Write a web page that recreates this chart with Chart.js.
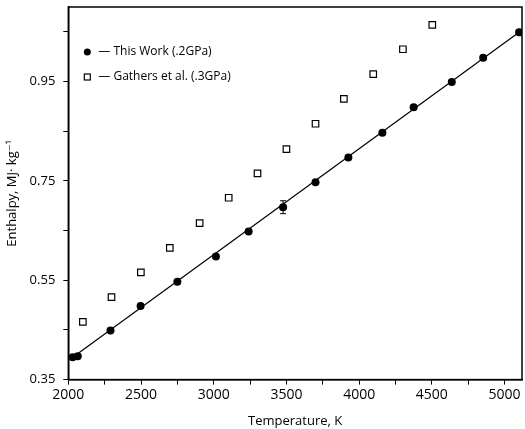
<!DOCTYPE html>
<html>
<head>
<meta charset="utf-8">
<script src="https://cdn.jsdelivr.net/npm/chart.js@4.4.1/dist/chart.umd.min.js"></script>
<style>
  html, body { margin: 0; padding: 0; background: #fff; }
</style>
</head>
<body>
<canvas id="chart" width="525" height="429"></canvas>
<script>
// data
const thisWorkT = [2030, 2065, 2290, 2497, 2750, 3015, 3240, 3477, 3700, 3926, 4160, 4375, 4637, 4853, 5100];
const thisWorkH = [0.395, 0.397, 0.449, 0.498, 0.547, 0.598, 0.648, 0.697, 0.747, 0.797, 0.847, 0.898, 0.949, 0.998, 1.049];
const thisWorkErr = [0, 0, 0, 0, 0, 0, 0, 0.013, 0, 0, 0, 0, 0, 0, 0];

const gathersT = [2100, 2297, 2499, 2698, 2903, 3103, 3301, 3500, 3700, 3895, 4097, 4301, 4503];
const gathersH = [0.466, 0.516, 0.566, 0.615, 0.665, 0.716, 0.765, 0.814, 0.865, 0.915, 0.965, 1.015, 1.064];

const fitT = [2045, 5100];
const fitH = [0.398, 1.049];

const xTicks = [2000, 2250, 2500, 2750, 3000, 3250, 3500, 3750, 4000, 4250, 4500, 4750, 5000];
const xLabels = [2000, 2500, 3000, 3500, 4000, 4500, 5000];
const yTicks = [0.35, 0.45, 0.55, 0.65, 0.75, 0.85, 0.95, 1.05];
const yLabels = [0.35, 0.55, 0.75, 0.95];

const legendItems = ["\u2014 This Work (.2GPa)", "\u2014 Gathers et al. (.3GPa)"];

const FONT = "'Open Sans', 'DejaVu Sans', sans-serif";

function toXY(xs, ys) {
    return xs.map((x, i) => ({ x: x, y: ys[i] }));
}

// frame, error bar and legend
const extras = {
    id: "extras",
    afterDatasetsDraw(chart) {
        const ctx = chart.ctx;
        const a = chart.chartArea;
        const xs = chart.scales.x;
        const ys = chart.scales.y;

        ctx.save();
        ctx.strokeStyle = "#000";
        ctx.lineWidth = 1.5;
        ctx.strokeRect(a.left, a.top, a.right - a.left, a.bottom - a.top);

        // error bars
        ctx.lineWidth = 1;
        thisWorkErr.forEach((e, i) => {
            if (!e) return;
            const px = xs.getPixelForValue(thisWorkT[i]);
            const y1 = ys.getPixelForValue(thisWorkH[i] + e);
            const y2 = ys.getPixelForValue(thisWorkH[i] - e);
            ctx.beginPath();
            ctx.moveTo(px, y1); ctx.lineTo(px, y2);
            ctx.moveTo(px - 3, y1); ctx.lineTo(px + 3, y1);
            ctx.moveTo(px - 3, y2); ctx.lineTo(px + 3, y2);
            ctx.stroke();
        });

        // legend
        ctx.font = "12px " + FONT;
        ctx.fillStyle = "#000";
        ctx.textBaseline = "middle";
        const lx = a.left + 19;
        const ly = a.top + 45;
        ctx.beginPath();
        ctx.arc(lx, ly, 3.5, 0, Math.PI * 2);
        ctx.fill();
        ctx.fillText(legendItems[0], lx + 11, ly);
        ctx.lineWidth = 1.2;
        ctx.strokeRect(lx - 3, ly + 25 - 3, 6, 6);
        ctx.fillText(legendItems[1], lx + 11, ly + 25);
        ctx.restore();
    }
};

const ctx = document.getElementById("chart").getContext("2d");

const chart = new Chart(ctx, {
    type: "scatter",
    data: {
        datasets: [
            {
                label: "fit",
                type: "line",
                data: toXY(fitT, fitH),
                borderColor: "#000",
                borderWidth: 1.2,
                pointRadius: 0,
                fill: false
            },
            {
                label: "This Work (.2GPa)",
                data: toXY(thisWorkT, thisWorkH),
                pointStyle: "circle",
                pointRadius: 4,
                backgroundColor: "#000",
                borderColor: "#000",
                borderWidth: 0
            },
            {
                label: "Gathers et al. (.3GPa)",
                data: toXY(gathersT, gathersH),
                pointStyle: "rect",
                pointRadius: 4.6,
                backgroundColor: "#fff",
                borderColor: "#000",
                borderWidth: 1.2
            }
        ]
    },
    options: {
        responsive: false,
        animation: false,
        devicePixelRatio: 1,
        layout: { autoPadding: false, padding: { top: 7, right: 3, left: 4, bottom: 0 } },
        plugins: {
            legend: { display: false },
            tooltip: { enabled: false }
        },
        scales: {
            x: {
                type: "linear",
                min: 2000,
                max: 5120,
                afterBuildTicks: s => { s.ticks = xTicks.map(v => ({ value: v })); },
                ticks: {
                    autoSkip: false,
                    maxRotation: 0,
                    color: "#000",
                    padding: 2,
                    font: { family: FONT, size: 14 },
                    callback: v => xLabels.includes(v) ? String(v) : ""
                },
                grid: { drawOnChartArea: false, color: "#000", tickLength: 5, tickWidth: 1 },
                border: { color: "#000", width: 1.5 },
                title: {
                    display: true,
                    text: "Temperature, K",
                    color: "#000",
                    padding: { top: 8, bottom: 0 },
                    font: { family: FONT, size: 13 }
                }
            },
            y: {
                type: "linear",
                min: 0.35,
                max: 1.1,
                afterBuildTicks: s => { s.ticks = yTicks.map(v => ({ value: v })); },
                afterFit: s => { s.paddingTop = 0; s.paddingBottom = 0; },
                ticks: {
                    autoSkip: false,
                    color: "#000",
                    padding: 8,
                    font: { family: FONT, size: 13 },
                    callback: v => yLabels.some(l => Math.abs(l - v) < 1e-6) ? v.toFixed(2) : ""
                },
                grid: { drawOnChartArea: false, color: "#000", tickLength: 5, tickWidth: 1 },
                border: { color: "#000", width: 1.5 },
                title: {
                    display: true,
                    text: "Enthalpy, MJ\u00b7 kg\u207b\u00b9",
                    color: "#000",
                    padding: { top: 0, bottom: 2 },
                    font: { family: FONT, size: 13 }
                }
            }
        }
    },
    plugins: [extras]
});
</script>
</body>
</html>
